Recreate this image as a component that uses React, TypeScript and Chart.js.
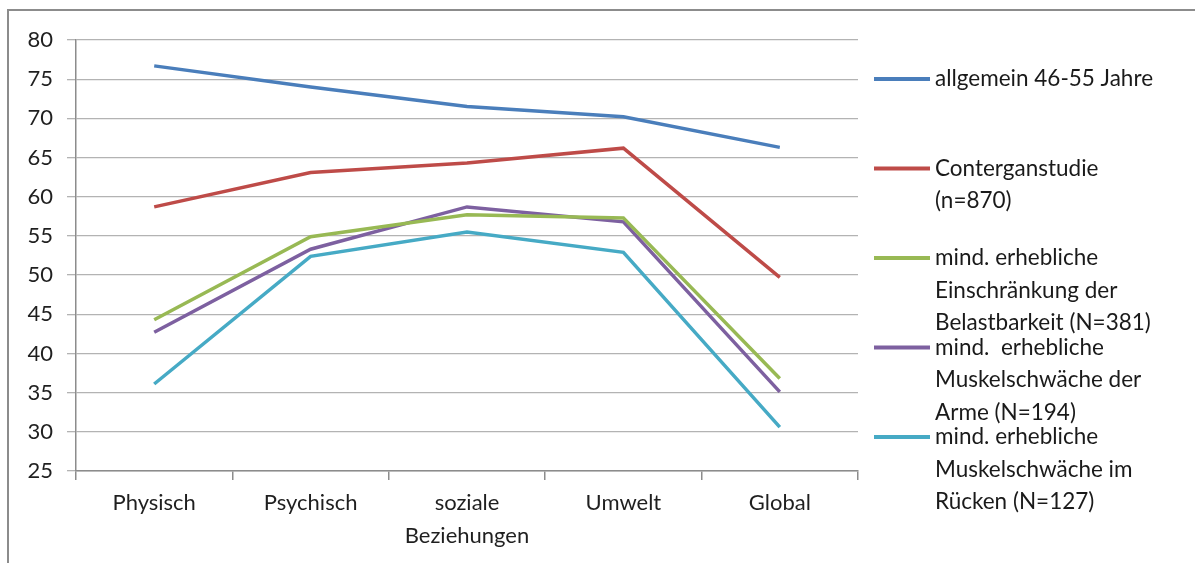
import React, { useEffect, useRef } from "react";
import { Chart, registerables } from "chart.js";

Chart.register(...registerables);

const categories: (string | string[])[] = ["Physisch", "Psychisch", ["soziale", "Beziehungen"], "Umwelt", "Global"];

const allgemein = [76.7, 74.0, 71.5, 70.2, 66.3];
const contergan = [58.7, 63.1, 64.3, 66.2, 49.7];
const belastbarkeit = [44.3, 54.9, 57.7, 57.3, 36.8];
const arme = [42.7, 53.3, 58.7, 56.8, 35.1];
const ruecken = [36.1, 52.4, 55.5, 52.9, 30.6];

const seriesLabels: string[][] = [
  ["allgemein 46-55 Jahre"],
  ["Conterganstudie", "(n=870)"],
  ["mind. erhebliche", "Einschränkung der", "Belastbarkeit (N=381)"],
  ["mind.  erhebliche", "Muskelschwäche der", "Arme (N=194)"],
  ["mind. erhebliche", "Muskelschwäche im", "Rücken (N=127)"],
];

const colors = ["#4a7ebb", "#be4b48", "#98b954", "#7d60a0", "#46aac5"];

const yMin = 25;
const yMax = 80;
const yStep = 5;

const FONT = "Lato, 'Open Sans', sans-serif";

const framePlugin = {
  id: "frame",
  beforeDraw(chart: any) {
    const ctx = chart.ctx;
    ctx.save();
    ctx.fillStyle = "#ffffff";
    ctx.fillRect(0, 0, chart.width, chart.height);
    ctx.strokeStyle = "#8c8c8c";
    ctx.lineWidth = 2;
    ctx.strokeRect(8, 10, 1300, 700);
    ctx.restore();
  },
};

const legendPlugin = {
  id: "customLegend",
  afterDraw(chart: any) {
    const ctx = chart.ctx;
    const x0 = chart.chartArea.right + 16;
    ctx.save();
    ctx.font = `22.5px ${FONT}`;
    ctx.textBaseline = "middle";
    ctx.textAlign = "left";
    chart.data.datasets.forEach((ds: any, i: number) => {
      const y = 79 + i * 89.5;
      ctx.strokeStyle = ds.borderColor;
      ctx.lineWidth = 4;
      ctx.beginPath();
      ctx.moveTo(x0, y);
      ctx.lineTo(x0 + 56, y);
      ctx.stroke();
      ctx.fillStyle = "#1a1a1a";
      (ds.legendLines as string[]).forEach((line, j) => {
        ctx.fillText(line, x0 + 61, y + j * 32.5);
      });
    });
    ctx.restore();
  },
};

export default function App() {
  const ref = useRef<HTMLCanvasElement | null>(null);
  useEffect(() => {
    if (!ref.current) return;
    const data = [allgemein, contergan, belastbarkeit, arme, ruecken];
    const chart = new Chart(ref.current, {
      type: "line",
      data: {
        labels: categories,
        datasets: data.map((d, i) => ({
          label: seriesLabels[i].join(" "),
          legendLines: seriesLabels[i],
          data: d,
          borderColor: colors[i],
          backgroundColor: colors[i],
          borderWidth: 3.5,
          pointRadius: 0,
          tension: 0,
          fill: false,
        })) as any,
      },
      options: {
        animation: false,
        responsive: false,
        layout: { padding: { left: 0, top: 40, right: 337, bottom: 0 } },
        plugins: {
          legend: { display: false },
          title: { display: false },
          tooltip: { enabled: false },
        },
        scales: {
          x: {
            offset: true,
            afterFit: (s: any) => {
              s.height = 92;
            },
            grid: {
              offset: true,
              drawOnChartArea: false,
              drawTicks: true,
              tickLength: 9,
              color: "#8c8c8c",
              lineWidth: 1.5,
            },
            border: { color: "#8c8c8c", width: 1.5 },
            ticks: {
              color: "#1f1f1f",
              font: { family: FONT, size: 22, lineHeight: 1.48 },
              padding: 7,
              maxRotation: 0,
              autoSkip: false,
            },
          },
          y: {
            min: yMin,
            max: yMax,
            afterFit: (s: any) => {
              s.width = 76;
            },
            ticks: {
              stepSize: yStep,
              color: "#1f1f1f",
              font: { family: FONT, size: 22 },
              padding: 14,
            },
            grid: {
              color: "#b3b3b3",
              lineWidth: 1.3,
              tickLength: 9,
            },
            border: { color: "#8c8c8c", width: 1.5 },
          },
        },
      },
      plugins: [framePlugin, legendPlugin],
    });
    return () => chart.destroy();
  }, []);
  return (
    <div style={{ position: "fixed", left: 0, top: 0, width: 1195, height: 563 }}>
      <canvas ref={ref} width={1195} height={563} style={{ width: 1195, height: 563 }} />
    </div>
  );
}
